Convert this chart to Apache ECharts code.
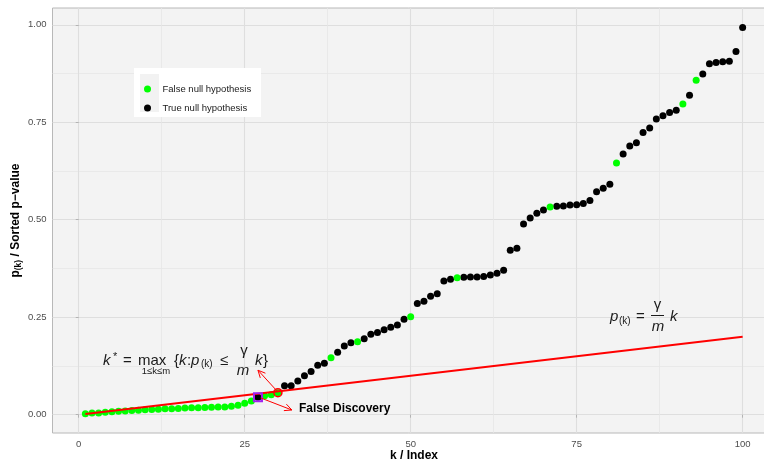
<!DOCTYPE html>
<html>
<head>
<meta charset="utf-8">
<script src="https://cdn.jsdelivr.net/npm/echarts@6/dist/echarts.min.js"></script>
<style>
html, body { margin: 0; padding: 0; background: #fff; }
#chart { width: 764px; height: 461px; }
</style>
</head>
<body>
<div id="chart"></div>
<script>
// sorted p-values, rank k = index + 1
const pValues = [
    0.0026, 0.0040, 0.0045, 0.0060, 0.0075, 0.0090, 0.0095, 0.0108, 0.0112, 0.0125,
    0.0135, 0.0142, 0.0150, 0.0155, 0.0160, 0.0168, 0.0175, 0.0178, 0.0185, 0.0190,
    0.0195, 0.0200, 0.0215, 0.0240, 0.0290, 0.0350, 0.0445, 0.0487, 0.0510, 0.0563,
    0.0743, 0.0745, 0.0863, 0.1000, 0.1110, 0.1270, 0.1316, 0.1460, 0.1600, 0.1760,
    0.1845, 0.1870, 0.1950, 0.2060, 0.2110, 0.2180, 0.2240, 0.2297, 0.2450, 0.2510,
    0.2850, 0.2910, 0.3040, 0.3100, 0.3430, 0.3475, 0.3510, 0.3526, 0.3528, 0.3534,
    0.3543, 0.3585, 0.3630, 0.3706, 0.4218, 0.4269, 0.4890, 0.5045, 0.5165, 0.5250,
    0.5327, 0.5345, 0.5352, 0.5380, 0.5387, 0.5413, 0.5490, 0.5720, 0.5805, 0.5908,
    0.6453, 0.6684, 0.6890, 0.6975, 0.7240, 0.7350, 0.7580, 0.7667, 0.7747, 0.7805,
    0.7965, 0.8190, 0.8580, 0.8740, 0.8998, 0.9030, 0.9050, 0.9066, 0.9314, 0.9928
];
// ranks whose null hypothesis is false
const falseNullRanks = [
    1, 2, 3, 4, 5, 6, 7, 8, 9, 10, 11, 12, 13, 14, 15, 16, 17, 18, 19, 20,
    21, 22, 23, 24, 25, 26, 28, 29, 30, 38, 42, 50, 57, 71, 81, 91, 93
];
const falseDiscoveryRank = 27;
const cutoffRank = 30;
const gamma = 0.2;
const m = 100;

const xTicks = [0, 25, 50, 75, 100];
const xMinor = [12.5, 37.5, 62.5, 87.5];
const yTicks = [0, 0.25, 0.5, 0.75, 1];
const yMinor = [0.125, 0.375, 0.625, 0.875];

const falseNull = [];
const trueNull = [];
pValues.forEach((p, i) => {
    const k = i + 1;
    if (falseNullRanks.includes(k)) falseNull.push([k, p]);
    else trueNull.push([k, p]);
});
const bhLine = [[1, gamma * 1 / m], [m, gamma * m / m]];

const FONT = 'Liberation Sans';
const TXT = '#1a1a1a';

const chart = echarts.init(document.getElementById('chart'), null, { renderer: 'canvas' });

function xAxisOf(values, main) {
    return {
        type: 'value', gridIndex: 0, position: 'bottom',
        min: -3.95, max: 104.95,
        axisLine: { show: false },
        axisTick: { show: main, customValues: values, length: 3, lineStyle: { color: '#b3b3b3' } },
        axisLabel: {
            show: main, customValues: values, margin: 6,
            color: '#4d4d4d', fontSize: 9.5, fontFamily: FONT
        },
        splitLine: { show: true, lineStyle: { color: main ? '#dedede' : '#e6e6e6', width: main ? 1.1 : 0.8 } },
        name: main ? 'k / Index' : '',
        nameLocation: 'middle', nameGap: 17, nameMoveOverlap: false,
        nameTextStyle: { fontWeight: 'bold', fontSize: 12, color: '#000', fontFamily: FONT }
    };
}

function yAxisOf(values, main) {
    return {
        type: 'value', gridIndex: 0, position: 'left',
        min: -0.047, max: 1.043,
        axisLine: { show: false },
        axisTick: { show: main, customValues: values, length: 3, lineStyle: { color: '#b3b3b3' } },
        axisLabel: {
            show: main, customValues: values, margin: 6,
            color: '#4d4d4d', fontSize: 9.5, fontFamily: FONT,
            formatter: v => v.toFixed(2)
        },
        splitLine: { show: true, lineStyle: { color: main ? '#dedede' : '#e6e6e6', width: main ? 1.1 : 0.8 } },
        name: main ? '{b|p}{s|(k)}{b| / Sorted p\u2212value}' : '',
        nameLocation: 'middle', nameGap: 29, nameRotate: 90, nameMoveOverlap: false,
        nameTextStyle: {
            fontFamily: FONT,
            rich: {
                b: { fontWeight: 'bold', fontSize: 12, color: '#000', fontFamily: FONT },
                s: { fontWeight: 'bold', fontSize: 8.5, color: '#000', fontFamily: FONT, padding: [6, 0, 0, 0] }
            }
        }
    };
}

const option = {
    animation: false,
    grid: {
        // panel runs past the right edge of the picture
        left: 52.5, top: 8, width: 723, bottom: 28,
        outerBoundsMode: 'none', containLabel: false,
        show: true, backgroundColor: '#f3f3f3', borderColor: '#b8b8b8', borderWidth: 1
    },
    xAxis: [xAxisOf(xTicks, true), xAxisOf(xMinor, false)],
    yAxis: [yAxisOf(yTicks, true), yAxisOf(yMinor, false)],
    legend: {
        orient: 'vertical', left: 139, top: 78,
        itemWidth: 20, itemHeight: 7, itemGap: 7, icon: 'circle',
        selectedMode: false,
        textStyle: { fontSize: 9.5, color: TXT, fontFamily: FONT, lineHeight: 12 },
        data: ['False null hypothesis', 'True null hypothesis']
    },
    series: [
        {
            name: 'True null hypothesis', type: 'scatter', data: trueNull,
            symbolSize: 7, itemStyle: { color: '#000', opacity: 1 }, z: 2
        },
        {
            name: 'False null hypothesis', type: 'scatter', data: falseNull,
            symbolSize: 7, itemStyle: { color: '#00ff00', opacity: 1 }, z: 2
        },
        {
            name: 'BH line', type: 'line', data: bhLine, showSymbol: false,
            lineStyle: { color: '#ff0000', width: 2 }, z: 3, silent: true
        },
        {
            name: 'false discovery', type: 'scatter',
            data: [[falseDiscoveryRank, pValues[falseDiscoveryRank - 1]]],
            symbol: 'rect', symbolSize: 8,
            itemStyle: { color: 'transparent', borderColor: '#a020f0', borderWidth: 2, opacity: 1 }, z: 4
        },
        {
            name: 'cutoff', type: 'scatter',
            data: [[cutoffRank, pValues[cutoffRank - 1]]],
            symbol: 'circle', symbolSize: 8,
            itemStyle: { color: 'transparent', borderColor: '#ff0000', borderWidth: 1.6, opacity: 1 }, z: 4
        }
    ]
};

chart.setOption(option);

// annotations
const toPx = (pt) => chart.convertToPixel({ xAxisIndex: 0, yAxisIndex: 0 }, pt);

function arrow(from, to) {
    const a = toPx(from), b = toPx(to);
    const ang = Math.atan2(b[1] - a[1], b[0] - a[0]);
    const len = 8, spread = 0.45;
    const h1 = [b[0] - len * Math.cos(ang - spread), b[1] - len * Math.sin(ang - spread)];
    const h2 = [b[0] - len * Math.cos(ang + spread), b[1] - len * Math.sin(ang + spread)];
    const st = { stroke: '#ff0000', lineWidth: 1, fill: null };
    return [
        { type: 'polyline', z: 5, shape: { points: [a, b] }, style: st },
        { type: 'polyline', z: 5, shape: { points: [h1, b, h2] }, style: st }
    ];
}

function txt(x, y, text, size, italic, align, extra) {
    return Object.assign({
        type: 'text', x: x, y: y, z: 5,
        style: {
            text: text, fill: TXT,
            font: (italic ? 'italic ' : '') + size + 'px "' + FONT + '"',
            align: align || 'left', verticalAlign: 'middle'
        }
    }, extra || {});
}

const F = 15;
const graphics = [
    // legend box
    { type: 'rect', z: 3, shape: { x: 134, y: 68, width: 127, height: 49 }, style: { fill: '#ffffff' } },
    { type: 'rect', z: 3, shape: { x: 140, y: 74, width: 19, height: 38 }, style: { fill: '#f2f2f2' } },

    // k* = max {k : p(k) <= gamma/m k}
    txt(103, 360.5, 'k', F, true),
    txt(113, 357, '*', 11, false),
    txt(123, 360.5, '=', F, false),
    txt(138, 360.5, 'max', F, false),
    txt(156, 371, '1\u2264k\u2264m', 9.5, false, 'center'),
    txt(174, 360.5, '{', F, false),
    txt(179, 360.5, 'k', F, true),
    txt(187, 360.5, ':', F, false),
    txt(191, 360.5, 'p', F, true),
    txt(201, 364.5, '(k)', 10, false),
    txt(220, 360.5, '\u2264', F, false),
    txt(244, 351, '\u03b3', F, false, 'center'),
    txt(243, 371, 'm', F, true, 'center'),
    txt(255, 360.5, 'k', F, true),
    txt(263, 360.5, '}', F, false),

    // p(k) = gamma/m k
    txt(610, 316.5, 'p', F, true),
    txt(619, 321, '(k)', 10, false),
    txt(636, 316.5, '=', F, false),
    txt(657.5, 305, '\u03b3', F, false, 'center'),
    { type: 'line', z: 5, shape: { x1: 651, y1: 315.5, x2: 664, y2: 315.5 }, style: { stroke: TXT, lineWidth: 1 } },
    txt(658, 327, 'm', F, true, 'center'),
    txt(670, 316.5, 'k', F, true),

    // false discovery label
    {
        type: 'text', x: 299, y: 409, z: 5,
        style: { text: 'False Discovery', fill: '#000', font: 'bold 12px "' + FONT + '"', verticalAlign: 'middle' }
    }
];

graphics.push(...arrow([29.85, 0.061], [27.0, 0.114]));
graphics.push(...arrow([27.4, 0.043], [32.1, 0.012]));

chart.setOption({ graphic: graphics });
</script>
</body>
</html>
